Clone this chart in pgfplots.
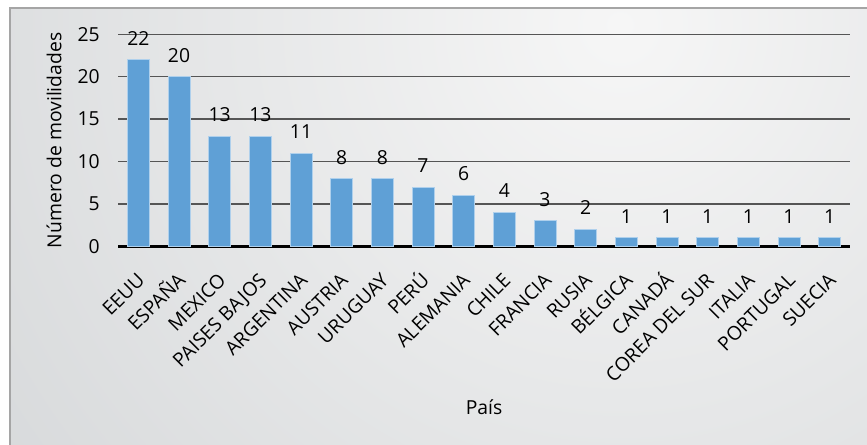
\documentclass[border=0pt]{standalone}
\usepackage{pgfplots}
\pgfplotsset{compat=1.18}
\usepackage{fontspec}
\setmainfont{Open Sans}
\definecolor{barblue}{RGB}{95,160,214}
\definecolor{baredge}{RGB}{175,208,236}
\definecolor{gridc}{RGB}{85,85,85}
\definecolor{bgin}{RGB}{246,246,246}
\definecolor{bgout}{RGB}{190,194,197}
\definecolor{framec}{RGB}{165,165,165}
\newcommand{\cf}{\fontsize{14.5}{17}\selectfont}
\begin{document}
\begin{tikzpicture}[x=0.75pt,y=0.75pt]
\useasboundingbox (0,0) rectangle (867,445);
\fill[white] (0,0) rectangle (867,445);
\begin{scope}
\clip (10,0) rectangle (867,437);
\shade[inner color=bgin, outer color=bgout] (620,420) circle (1400);
\end{scope}
\draw[color=framec, line width=1.5pt] (10,-5) -- (10,437) -- (875,437);
\begin{axis}[
  at={(88.5pt,148.9pt)}, anchor=south west,
  scale only axis, width=549pt, height=159.2pt,
  xmin=-0.5, xmax=17.5, ymin=0, ymax=25,
  clip=false,
  axis line style={draw=none},
  tick style={draw=none},
  ytick={5,10,15,20,25},
  extra y ticks={0},
  extra y tick style={grid style={black, line width=1.6pt}},
  ymajorgrids,
  grid style={gridc, line width=1pt},
  xtick=data,
  xticklabels={EEUU,ESPAÑA,MEXICO,PAISES BAJOS,ARGENTINA,AUSTRIA,URUGUAY,PERÚ,ALEMANIA,CHILE,FRANCIA,RUSIA,BÉLGICA,CANADÁ,COREA DEL SUR,ITALIA,PORTUGAL,SUECIA},
  /pgf/number format/assume math mode=true,
  ticklabel style={font=\cf},
  yticklabel style={anchor=east, inner sep=0pt, xshift=-13.5pt},
  xticklabel style={xshift=0.5pt, yshift=-21pt, rotate=45, anchor=north east, inner sep=0pt, text height=0.72em, text depth=0pt},
  ylabel={Número de movilidades},
  ylabel style={at={(axis description cs:-0.0874,0.5)}, anchor=center, font=\cf},
  xlabel={País},
  xlabel style={at={(axis description cs:0.5,-0.759)}, anchor=center, font=\cf},
]
\addplot[ybar, bar width=16.5pt, fill=barblue, draw=baredge, line width=0.75pt,
  nodes near coords,
  every node near coord/.append style={anchor=base, inner sep=0pt, yshift=10.9pt, font=\cf, text=black},
] coordinates {
(0,22) (1,20) (2,13) (3,13) (4,11) (5,8) (6,8) (7,7) (8,6) (9,4) (10,3) (11,2) (12,1) (13,1) (14,1) (15,1) (16,1) (17,1)
};
\end{axis}
\end{tikzpicture}
\end{document}
